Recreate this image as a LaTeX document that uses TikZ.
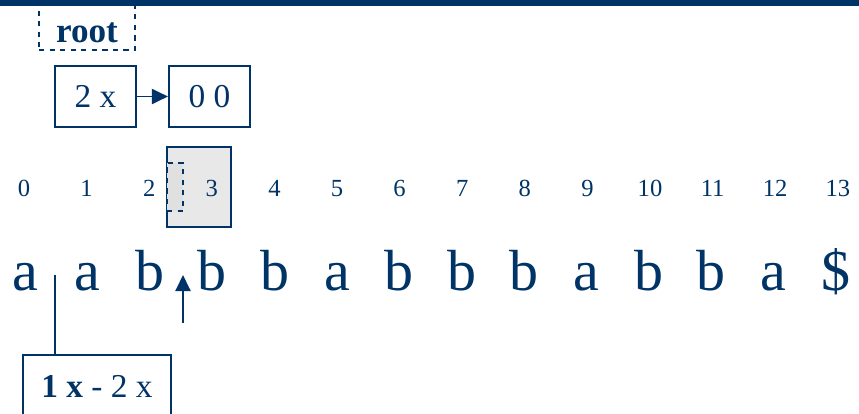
\documentclass[tikz,border=0pt]{standalone}
\usepackage{fontspec}
\setmainfont{Liberation Serif}
\definecolor{sfblue}{RGB}{0,51,102}
\definecolor{slotgray}{RGB}{232,232,232}
\usetikzlibrary{arrows.meta,positioning}

\begin{document}
\begin{tikzpicture}[
  x=0.02cm, y=-0.02cm,
  cell/.style={rectangle, draw=sfblue, line width=1.1pt, text=sfblue, font=\fontsize{19}{19}\selectfont, minimum width=1.62cm, minimum height=1.22cm, inner sep=0pt},
  rootbox/.style={rectangle, draw=sfblue, dashed, line width=1.1pt, text=sfblue, font=\fontsize{20}{20}\selectfont\bfseries, minimum width=1.92cm, minimum height=0.9cm, text height=0.6cm, text depth=0pt},
  idx/.style={anchor=base, text=sfblue, font=\fontsize{14}{14}\selectfont, inner sep=0pt},
  chr/.style={anchor=base, text=sfblue, font=\fontsize{33}{33}\selectfont, inner sep=0pt},
  ptr/.style={draw=sfblue, line width=1.1pt},
  arr/.style={ptr, -{Triangle[length=3.2mm, width=3mm]}},
  node distance=0.62cm,
]
\useasboundingbox (0,0) rectangle (859,413);

% root and the first two blocks
\node[rootbox] (root) at (87,27.5) {root};
\node[cell] (blk1) at (95.5,96.5) {2 x};
\node[cell, right=of blk1] (blk2) {0 0};
\draw[arr] (blk1) -- (blk2);

% current slot
\node[rectangle, draw=sfblue, line width=1.1pt, fill=slotgray, minimum width=1.28cm, minimum height=1.6cm] (slot) at (199,187) {};
\node[rectangle, draw=sfblue, dashed, line width=1.1pt, fill=black!12, minimum width=0.32cm, minimum height=0.96cm] (half) at (175,187) {};

% text and positions
\foreach \ch [count=\i from 0] in {a,a,b,b,b,a,b,b,b,a,b,b,a,\$} {
  \node[idx] (i\i) at (24+62.6*\i,196) {\i};
  \node[chr] (c\i) at (25+62.4*\i,290) {\ch};
}

% pointers
\node[cell, minimum width=2.96cm, minimum height=1.4cm, text depth=0.16cm] (cnt) at (97,390) {\textbf{1 x} - 2 x};
\coordinate (split) at (55,275);
\draw[ptr] (split) -- (split |- cnt.north);
\coordinate (pos) at (183,323);
\coordinate (postip) at (183,275);
\draw[arr] (pos) -- (postip);

% top rule
\fill[sfblue] (0,0) rectangle (859,6);
\end{tikzpicture}
\end{document}
